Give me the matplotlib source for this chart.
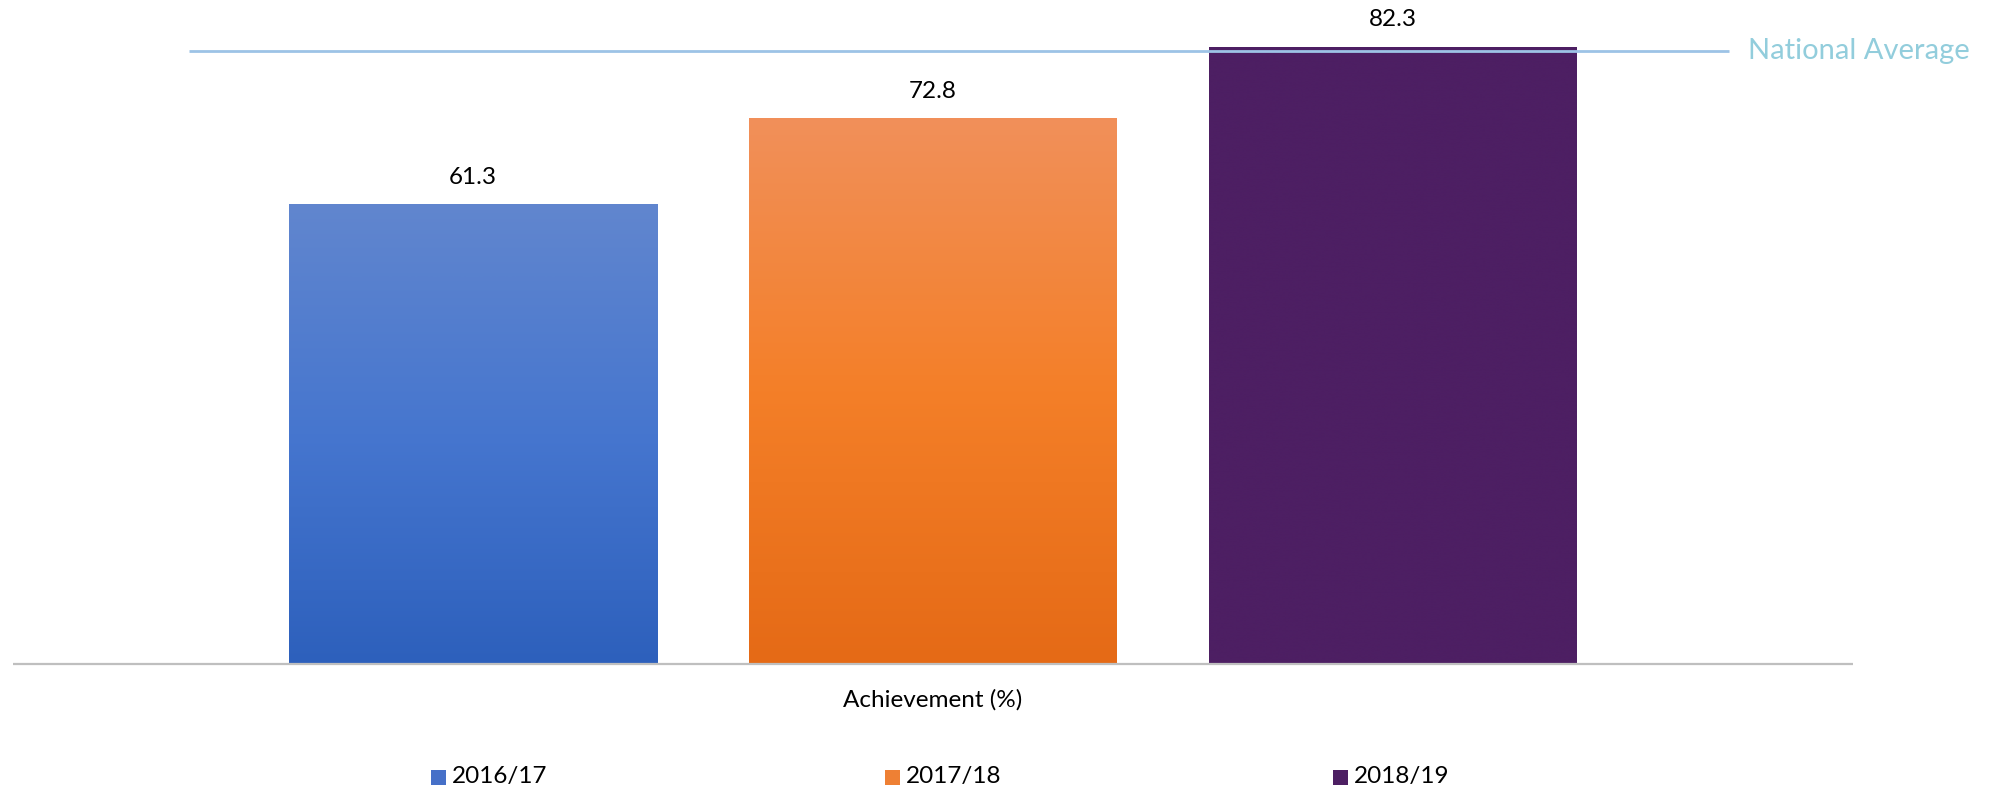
import matplotlib
matplotlib.use("Agg")
import matplotlib.pyplot as plt
import numpy as np
from matplotlib.colors import LinearSegmentedColormap
from matplotlib.patches import Rectangle

# ---- data ----
series = ["2016/17", "2017/18", "2018/19"]
values = [61.3, 72.8, 82.3]
national_average = 81.8
category_label = "Achievement (%)"
avg_label = "National Average"

top_colors = ["#6186CE", "#F1905A", "#4D1F63"]
mid_colors = ["#4676CF", "#F47F28", "#4D1F63"]
bottom_colors = ["#2D60BC", "#E56A16", "#4D1F63"]
legend_colors = ["#4670C8", "#EE8034", "#4D1F63"]

plt.rcParams['font.family'] = ['Lato', 'DejaVu Sans']

W, H = 1990, 793
fig = plt.figure(figsize=(W / 100, H / 100), dpi=100)
ax_bottom_px = 664
ax = fig.add_axes([13 / W, 1 - ax_bottom_px / H, (1853 - 13) / W, ax_bottom_px / H])
px_per_unit = 7.497
ax.set_ylim(0, ax_bottom_px / px_per_unit)
ax.set_xlim(-1.0, 3.0)
ax.axis("off")

x = np.arange(len(values))
bars = ax.bar(x, values, width=0.8, color="none", edgecolor="none", zorder=2)
for b, c1, cm, c2 in zip(bars, top_colors, mid_colors, bottom_colors):
    cmap = LinearSegmentedColormap.from_list("g", [c2, cm, c1])
    grad = np.linspace(0, 1, 256).reshape(-1, 1)
    x0, y0 = b.get_x(), b.get_y()
    im = ax.imshow(grad, cmap=cmap, origin="lower", aspect="auto",
                   extent=[x0, x0 + b.get_width(), y0, y0 + b.get_height()],
                   zorder=2, interpolation="bicubic")
    im.set_clip_path(b)

for xi, v in zip(x, values):
    ax.annotate(f"{v:.1f}", (xi, v), xytext=(0, 19.5), textcoords="offset points",
                ha="center", va="center", fontsize=17.5, color="#000000")

# baseline
ax.plot([-1.0, 3.0], [0, 0], color="#BFBFBF", lw=1.6, zorder=3, clip_on=False, solid_capstyle="butt")

# national average line
ax.plot([-0.618, 2.73], [national_average, national_average], color="#9DC3E6", lw=2.0, zorder=4,
        solid_capstyle="butt")
ax.annotate(avg_label, (2.73, national_average), xytext=(14, 0), textcoords="offset points",
            ha="left", va="center", fontsize=21, color="#92CDDC")

# category label
fig.text(933 / W, 1 - 700 / H, category_label, ha="center", va="center", fontsize=17.5, color="#000000")

# legend
leg_sq_x = [431, 885, 1333]
for sx, lab, col in zip(leg_sq_x, series, legend_colors):
    fig.patches.append(Rectangle((sx / W, 1 - 785 / H), 15 / W, 15 / H,
                                 transform=fig.transFigure, facecolor=col, edgecolor="none"))
    fig.text((sx + 21) / W, 1 - 777 / H, lab, ha="left", va="center", fontsize=17.5, color="#000000")

fig.savefig("out.png", dpi=100)
